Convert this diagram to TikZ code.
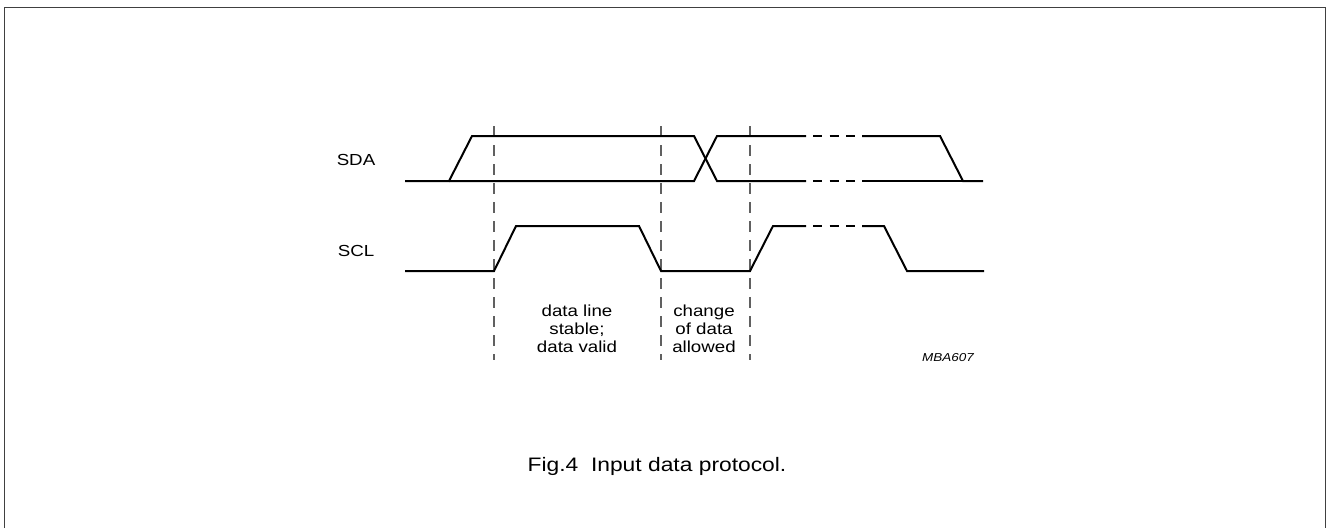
\documentclass[tikz,border=0pt]{standalone}
\usepackage{fontspec}
\setmainfont[FakeStretch=1.17]{Liberation Sans}
\begin{document}
\begin{tikzpicture}[x=1pt,y=-1pt,
  wave/.style={line width=2pt, line join=miter},
  guide/.style={gray!75!black, line width=1.2pt, dash pattern=on 11pt off 8pt},
  gapdash/.style={line width=2pt, dash pattern=on 9pt off 7.5pt},
  frameline/.style={black!75, line width=1.8pt},
  lbl/.style={font=\fontsize{16}{18}\selectfont, align=center, inner sep=0pt},
  figcaption/.style={font=\fontsize{19.5}{22}\selectfont, inner sep=0pt},
  tagtext/.style={font=\fontsize{11.5}{13}\selectfont\itshape, inner sep=0pt}]
\useasboundingbox (0,0) rectangle (1327,528);
% frame
\draw[frameline] (4.5,528) -- (4.5,7.5) -- (1325.5,7.5) -- (1325.5,528);
% guides
\draw[guide] (494,126) -- (494,360);
\draw[guide] (661,126) -- (661,360);
\draw[guide] (750,126) -- (750,360);
% SDA
\draw[wave] (405,181) -- (449,181) -- (472,136) -- (694,136) -- (717,181) -- (806,181);
\draw[wave] (449,181) -- (694,181) -- (717,136) -- (806,136);
\draw[gapdash] (813,136) -- (855,136);
\draw[gapdash] (813,181) -- (855,181);
\draw[wave] (862,136) -- (940,136) -- (963,181) -- (983,181);
\draw[wave] (862,181) -- (963,181);
% SCL
\draw[wave] (405,271) -- (494,271) -- (516,226) -- (639,226) -- (661,271) -- (750,271) -- (773,226) -- (806,226);
\draw[gapdash] (813,226) -- (855,226);
\draw[wave] (862,226) -- (884,226) -- (907,271) -- (984,271);
% labels
\node[lbl] (sda) at (356,160) {SDA};
\node[lbl] (scl) at (356,251) {SCL};
\node[lbl] (valid) at (577,329) {data line\\stable;\\data valid};
\node[lbl] (change) at (704,329) {change\\of data\\allowed};
\node[tagtext] (mba) at (948,358) {MBA607};
\node[figcaption] (caption) at (657,466) {Fig.4\ \ Input data protocol.};
\end{tikzpicture}
\end{document}
